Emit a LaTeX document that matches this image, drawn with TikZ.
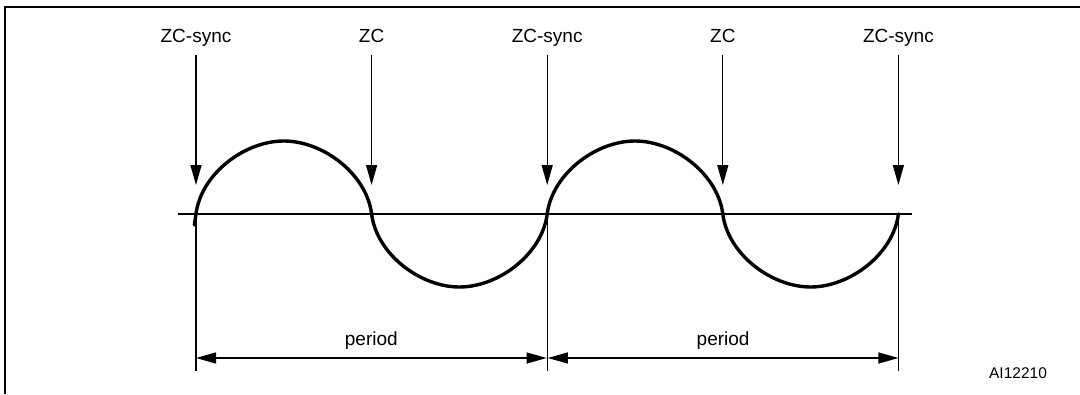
\documentclass[tikz,border=0pt]{standalone}
\usepackage{fontspec}
\setmainfont{Liberation Sans}
\usetikzlibrary{arrows.meta}
\tikzset{
  lbl/.style={inner sep=0pt, anchor=base, font=\fontsize{19}{19}\selectfont, text depth=4pt},
  arr/.style={line width=1.3pt, -{Triangle[length=20pt,width=11pt]}, shorten <=8pt},
  dim/.style={line width=1.3pt, {Triangle[length=20pt,width=11pt]}-{Triangle[length=20pt,width=11pt]}},
  ext/.style={line width=1.3pt},
  wave/.style={line width=3.4pt, line cap=round},
  axis/.style={line width=2pt},
  frame/.style={line width=2pt}
}
\begin{document}
\begin{tikzpicture}[x=1pt,y=-1pt]
\useasboundingbox (0,0) rectangle (1080,394);
% frame
\draw[frame] (1080,7) -- (5,7) -- (5,394);
% crossing coordinates
\coordinate (c0) at (196,214);
\coordinate (c1) at (371.6,214);
\coordinate (c2) at (547.2,214);
\coordinate (c3) at (722.8,214);
\coordinate (c4) at (898.4,214);
% axis
\coordinate (a0) at (178,214);
\coordinate (a1) at (912,214);
\draw[axis] (a0) -- (a1);
% wave
\draw[wave] (194.3,225) -- (c0)
  .. controls (201,174) and (244.4,141) .. (283.8,141)
  .. controls (323.2,141) and (366.6,174) .. (c1)
  .. controls (376.6,254) and (420,287) .. (459.4,287)
  .. controls (498.8,287) and (542.2,254) .. (c2)
  .. controls (552.2,174) and (595.6,141) .. (635,141)
  .. controls (674.4,141) and (717.8,174) .. (c3)
  .. controls (727.8,254) and (771.2,287) .. (810.6,287)
  .. controls (850,287) and (893.4,254) .. (c4);
% labels and arrows
\node[lbl] (l0) at (196,42.7) {ZC-sync};
\node[lbl] (l1) at (371.6,42.7) {ZC};
\node[lbl] (l2) at (547.2,42.7) {ZC-sync};
\node[lbl] (l3) at (722.8,42.7) {ZC};
\node[lbl] (l4) at (898.4,42.7) {ZC-sync};
\coordinate (t0) at (196,185);
\coordinate (t1) at (371.6,185);
\coordinate (t2) at (547.2,185);
\coordinate (t3) at (722.8,185);
\coordinate (t4) at (898.4,185);
\draw[arr] (l0.south) -- (t0);
\draw[arr] (l1.south) -- (t1);
\draw[arr] (l2.south) -- (t2);
\draw[arr] (l3.south) -- (t3);
\draw[arr] (l4.south) -- (t4);
% extension lines
\coordinate (b0) at (196,371);
\coordinate (b2) at (547.2,371);
\coordinate (b4) at (898.4,371);
\draw[ext] (c0) -- (b0);
\draw[ext] (c2) -- (b2);
\draw[ext] (c4) -- (b4);
% dimension arrows
\coordinate (d0) at (196,358);
\coordinate (d2l) at (546.6,358);
\coordinate (d2r) at (547.8,358);
\coordinate (d4) at (898.4,358);
\draw[dim] (d0) -- (d2l) node[midway, above=8pt, font=\fontsize{19}{19}\selectfont, inner sep=0pt] (p0) {period};
\draw[dim] (d2r) -- (d4) node[midway, above=8pt, font=\fontsize{19}{19}\selectfont, inner sep=0pt] (p1) {period};
\node[font=\fontsize{15.5}{15.5}\selectfont, inner sep=0pt] (id) at (1018,373) {AI12210};
\end{tikzpicture}
\end{document}
